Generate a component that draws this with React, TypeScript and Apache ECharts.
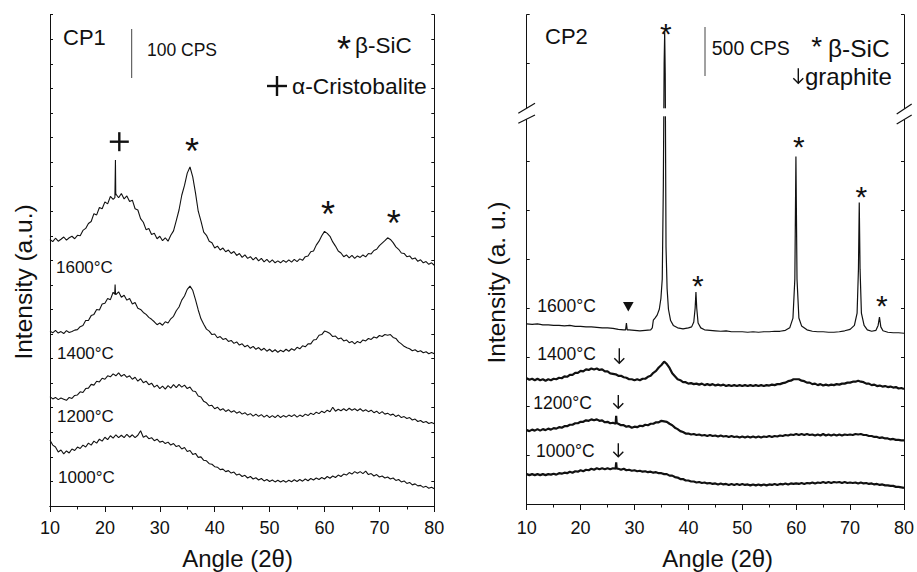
import React, { useEffect, useRef } from "react";
import * as echarts from "echarts";

// ---------- DATA (angle grid: 10..80 deg, 0.5 deg step) ----------
const ANGLE_START = 10;
const ANGLE_STEP = 0.5;

// CP1 (left panel), display units (0..20)
const CP1_1600 = [
  10.85, 10.76, 10.9, 10.78, 10.86, 10.95, 10.82, 10.92, 10.98, 10.88,
  11.02, 11.0, 11.22, 11.3, 11.5, 11.58, 11.9, 11.85, 12.15, 12.1,
  12.38, 12.3, 12.6, 12.48, 12.7, 12.55, 12.72, 12.5, 12.62, 12.4,
  12.45, 12.1, 12.05, 11.7, 11.55, 11.25, 11.3, 11.05, 11.1, 10.88,
  10.98, 10.8, 10.92, 10.78, 11.02, 11.2, 11.62, 12.05, 12.65, 13.05,
  13.55, 13.8, 13.4, 12.75, 12.0, 11.6, 11.15, 11.02, 10.78, 10.72,
  10.5, 10.58, 10.42, 10.5, 10.35, 10.42, 10.28, 10.36, 10.2, 10.28,
  10.12, 10.22, 10.08, 10.15, 10.02, 10.12, 9.98, 10.08, 9.94, 10.04,
  9.92, 10.02, 9.9, 9.98, 9.9, 10.0, 9.92, 10.02, 9.93, 10.04,
  9.95, 10.06, 10.0, 10.15, 10.18, 10.35, 10.38, 10.62, 10.78, 11.0,
  11.18, 11.1, 10.98, 10.75, 10.58, 10.38, 10.3, 10.15, 10.22, 10.1,
  10.2, 10.08, 10.18, 10.12, 10.22, 10.14, 10.28, 10.26, 10.4, 10.45,
  10.6, 10.7, 10.8, 10.92, 10.85, 10.72, 10.55, 10.45, 10.3, 10.28,
  10.15, 10.18, 10.05, 10.1, 9.96, 10.02, 9.9, 9.95, 9.84, 9.9,
  9.8,
];
const CP1_1600_SPIKES = [[21.82, 12.55], [21.92, 14.08], [21.98, 12.65]];

const CP1_1400 = [
  7.12, 7.05, 7.15, 7.04, 7.1, 7.02, 7.14, 7.06, 7.1, 7.16,
  7.18, 7.3, 7.35, 7.55, 7.55, 7.75, 7.8, 8.0, 7.98, 8.22,
  8.25, 8.45, 8.4, 8.7, 8.6, 8.72, 8.5, 8.58, 8.38, 8.45,
  8.22, 8.28, 8.05, 8.0, 7.88, 7.8, 7.68, 7.6, 7.5, 7.38,
  7.45, 7.36, 7.5, 7.45, 7.62, 7.72, 7.95, 8.1, 8.38, 8.55,
  8.82, 8.95, 8.78, 8.4, 7.98, 7.62, 7.4, 7.2, 7.12, 6.98,
  7.0, 6.85, 6.9, 6.78, 6.82, 6.7, 6.74, 6.62, 6.68, 6.55,
  6.6, 6.48, 6.54, 6.42, 6.5, 6.38, 6.45, 6.34, 6.42, 6.3,
  6.38, 6.28, 6.36, 6.26, 6.34, 6.28, 6.38, 6.3, 6.4, 6.34,
  6.46, 6.4, 6.52, 6.48, 6.6, 6.6, 6.76, 6.78, 6.95, 6.98,
  7.12, 7.08, 7.02, 6.9, 6.92, 6.8, 6.84, 6.72, 6.76, 6.65,
  6.7, 6.6, 6.7, 6.64, 6.76, 6.72, 6.82, 6.78, 6.88, 6.84,
  6.94, 6.9, 6.98, 6.95, 6.98, 6.86, 6.82, 6.68, 6.6, 6.5,
  6.44, 6.4, 6.32, 6.36, 6.28, 6.32, 6.24, 6.28, 6.2, 6.25,
  6.2,
];
const CP1_1400_SPIKES = [[21.78, 8.62], [21.86, 9.02], [21.93, 8.66]];

const CP1_1200 = [
  4.45, 4.36, 4.42, 4.33, 4.4, 4.35, 4.3, 4.42, 4.38, 4.5,
  4.52, 4.65, 4.62, 4.78, 4.8, 4.95, 4.92, 5.08, 5.05, 5.2,
  5.16, 5.3, 5.26, 5.38, 5.3, 5.42, 5.28, 5.36, 5.24, 5.3,
  5.16, 5.24, 5.08, 5.18, 5.02, 5.08, 4.94, 5.0, 4.84, 4.92,
  4.78, 4.88, 4.76, 4.9, 4.8, 4.94, 4.82, 4.95, 4.84, 4.92,
  4.78, 4.84, 4.68, 4.66, 4.48, 4.44, 4.26, 4.2, 4.08, 4.1,
  3.96, 4.02, 3.9, 3.96, 3.85, 3.92, 3.82, 3.88, 3.78, 3.84,
  3.74, 3.8, 3.7, 3.76, 3.66, 3.74, 3.65, 3.72, 3.62, 3.7,
  3.6, 3.68, 3.6, 3.7, 3.6, 3.68, 3.62, 3.7, 3.64, 3.72,
  3.62, 3.7, 3.64, 3.74, 3.68, 3.78, 3.72, 3.82, 3.76, 3.86,
  3.8, 3.9, 3.84, 4.02, 3.86, 3.94, 3.88, 3.96, 3.88, 3.98,
  3.9, 3.96, 3.88, 3.96, 3.86, 3.92, 3.84, 3.9, 3.8, 3.86,
  3.76, 3.84, 3.74, 3.78, 3.7, 3.74, 3.64, 3.7, 3.6, 3.64,
  3.56, 3.6, 3.5, 3.54, 3.44, 3.48, 3.4, 3.44, 3.36, 3.4,
  3.35,
];

const CP1_1000 = [
  2.68, 2.48, 2.4, 2.2, 2.28, 2.12, 2.24, 2.16, 2.32, 2.26,
  2.4, 2.34, 2.48, 2.4, 2.56, 2.48, 2.64, 2.56, 2.72, 2.64,
  2.8, 2.7, 2.86, 2.76, 2.9, 2.78, 2.88, 2.78, 2.92, 2.8,
  2.9, 2.78, 2.88, 3.06, 2.8, 2.86, 2.74, 2.78, 2.66, 2.72,
  2.6, 2.64, 2.54, 2.6, 2.48, 2.54, 2.42, 2.46, 2.32, 2.38,
  2.22, 2.26, 2.1, 2.14, 1.98, 2.0, 1.86, 1.84, 1.72, 1.7,
  1.6, 1.58, 1.48, 1.5, 1.4, 1.44, 1.34, 1.38, 1.26, 1.3,
  1.2, 1.25, 1.14, 1.2, 1.1, 1.15, 1.06, 1.12, 1.02, 1.08,
  1.0, 1.06, 0.98, 1.05, 0.98, 1.04, 0.97, 1.05, 0.99, 1.07,
  1.0, 1.08, 1.01, 1.1, 1.03, 1.12, 1.06, 1.14, 1.08, 1.16,
  1.1, 1.2, 1.13, 1.22, 1.16, 1.26, 1.2, 1.3, 1.26, 1.36,
  1.3, 1.4, 1.33, 1.4, 1.32, 1.42, 1.28, 1.32, 1.22, 1.28,
  1.18, 1.22, 1.14, 1.18, 1.1, 1.14, 1.04, 1.08, 0.98, 1.02,
  0.92, 0.96, 0.86, 0.9, 0.82, 0.84, 0.76, 0.8, 0.72, 0.76,
  0.7,
];

// CP2 (right panel), display units (0..10, break above ~8)
const CP2_1600 = [
  [10, 3.68], [11, 3.67], [12, 3.68], [13, 3.66], [14, 3.66], [15, 3.65], [16, 3.65],
  [17, 3.64], [18, 3.65], [19, 3.63], [20, 3.63], [21, 3.62], [22, 3.62], [23, 3.61],
  [24, 3.6], [25, 3.6], [26, 3.59], [27, 3.57], [28, 3.56], [28.35, 3.56], [28.5, 3.7],
  [28.65, 3.56], [29, 3.56], [30, 3.55], [31, 3.54], [32, 3.55], [33, 3.56], [33.3, 3.6],
  [33.5, 3.76], [33.8, 3.8], [34.2, 3.86], [34.6, 3.98], [34.9, 4.2], [35.15, 4.6],
  [35.35, 6.5], [35.5, 9.0], [35.6, 9.64], [35.7, 8.8], [35.85, 5.25], [36.05, 4.4],
  [36.3, 3.98], [36.7, 3.75], [37.2, 3.65], [38, 3.6], [39, 3.58], [40, 3.6], [40.6, 3.62],
  [41.0, 3.72], [41.25, 4.0], [41.4, 4.33], [41.55, 4.0], [41.8, 3.7], [42.3, 3.6],
  [43, 3.56], [44, 3.55], [45, 3.54], [46, 3.53], [47, 3.54], [48, 3.52], [49, 3.52],
  [50, 3.52], [51, 3.51], [52, 3.52], [53, 3.51], [54, 3.52], [55, 3.52], [56, 3.53],
  [57, 3.53], [58, 3.55], [58.8, 3.6], [59.4, 3.8], [59.75, 4.6], [59.95, 7.1],
  [60.15, 4.6], [60.5, 3.8], [61, 3.64], [62, 3.56], [63, 3.53], [64, 3.52], [65, 3.52],
  [66, 3.51], [67, 3.51], [68, 3.52], [69, 3.54], [70, 3.57], [70.8, 3.65], [71.3, 3.9],
  [71.55, 4.8], [71.7, 6.16], [71.85, 4.8], [72.1, 3.9], [72.6, 3.65], [73.2, 3.56],
  [74, 3.53], [74.8, 3.55], [75.2, 3.65], [75.45, 3.82], [75.7, 3.62], [76.1, 3.54],
  [77, 3.51], [78, 3.5], [79, 3.5], [80, 3.49],
];

const CP2_1400 = [
  2.57, 2.54, 2.56, 2.53, 2.56, 2.53, 2.55, 2.52, 2.55, 2.53,
  2.56, 2.55, 2.58, 2.57, 2.61, 2.6, 2.64, 2.64, 2.68, 2.68,
  2.72, 2.71, 2.75, 2.74, 2.77, 2.75, 2.77, 2.74, 2.75, 2.71,
  2.71, 2.67, 2.66, 2.65, 2.62, 2.62, 2.59, 2.58, 2.55, 2.55,
  2.53, 2.55, 2.53, 2.56, 2.56, 2.6, 2.62, 2.68, 2.72, 2.79,
  2.84, 2.91, 2.86, 2.78, 2.67, 2.61, 2.55, 2.53, 2.49, 2.49,
  2.46, 2.47, 2.45, 2.46, 2.44, 2.46, 2.43, 2.45, 2.43, 2.45,
  2.42, 2.44, 2.42, 2.44, 2.41, 2.43, 2.41, 2.43, 2.41, 2.43,
  2.41, 2.43, 2.41, 2.43, 2.41, 2.43, 2.41, 2.43, 2.41, 2.43,
  2.42, 2.44, 2.43, 2.45, 2.45, 2.47, 2.48, 2.51, 2.52, 2.55,
  2.55, 2.55, 2.52, 2.51, 2.48, 2.48, 2.45, 2.46, 2.43, 2.45,
  2.42, 2.44, 2.42, 2.44, 2.43, 2.45, 2.44, 2.46, 2.46, 2.48,
  2.48, 2.5, 2.5, 2.52, 2.5, 2.49, 2.46, 2.46, 2.43, 2.44,
  2.41, 2.42, 2.4, 2.41, 2.39, 2.4, 2.38, 2.39, 2.36, 2.37,
  2.35,
];

const CP2_1200 = [
  1.51, 1.49, 1.52, 1.5, 1.53, 1.5, 1.53, 1.51, 1.54, 1.52,
  1.55, 1.54, 1.57, 1.56, 1.59, 1.59, 1.62, 1.62, 1.65, 1.65,
  1.68, 1.68, 1.71, 1.7, 1.73, 1.71, 1.73, 1.7, 1.71, 1.67,
  1.68, 1.65, 1.66, 1.64, 1.64, 1.61, 1.61, 1.58, 1.59, 1.56,
  1.58, 1.57, 1.6, 1.59, 1.62, 1.61, 1.64, 1.64, 1.67, 1.67,
  1.7, 1.69, 1.68, 1.64, 1.61, 1.56, 1.53, 1.49, 1.47, 1.44,
  1.44, 1.42, 1.43, 1.41, 1.42, 1.4, 1.41, 1.39, 1.41, 1.39,
  1.4, 1.38, 1.4, 1.38, 1.39, 1.37, 1.39, 1.37, 1.38, 1.36,
  1.38, 1.36, 1.38, 1.36, 1.38, 1.36, 1.38, 1.36, 1.38, 1.37,
  1.39, 1.37, 1.39, 1.38, 1.4, 1.39, 1.41, 1.4, 1.42, 1.41,
  1.43, 1.41, 1.43, 1.41, 1.43, 1.41, 1.42, 1.4, 1.42, 1.4,
  1.43, 1.4, 1.42, 1.4, 1.42, 1.4, 1.42, 1.4, 1.42, 1.41,
  1.42, 1.41, 1.43, 1.42, 1.43, 1.41, 1.41, 1.39, 1.39, 1.37,
  1.37, 1.35, 1.36, 1.34, 1.34, 1.32, 1.33, 1.31, 1.31, 1.3,
  1.3,
];
const CP2_1200_SPIKES = [[26.6, 1.8], [26.7, 1.65]];

const CP2_1000 = [
  0.61, 0.59, 0.61, 0.59, 0.61, 0.59, 0.61, 0.59, 0.61, 0.6,
  0.62, 0.6, 0.63, 0.62, 0.64, 0.63, 0.66, 0.64, 0.67, 0.66,
  0.69, 0.67, 0.7, 0.69, 0.72, 0.7, 0.73, 0.71, 0.73, 0.71,
  0.73, 0.71, 0.73, 0.72, 0.72, 0.7, 0.72, 0.69, 0.7, 0.68,
  0.69, 0.67, 0.68, 0.66, 0.67, 0.65, 0.66, 0.64, 0.65, 0.63,
  0.63, 0.61, 0.61, 0.58, 0.58, 0.55, 0.54, 0.51, 0.51, 0.48,
  0.48, 0.46, 0.46, 0.44, 0.45, 0.43, 0.44, 0.42, 0.43, 0.41,
  0.42, 0.4, 0.42, 0.4, 0.41, 0.39, 0.41, 0.39, 0.41, 0.39,
  0.41, 0.39, 0.4, 0.38, 0.4, 0.38, 0.4, 0.38, 0.4, 0.38,
  0.4, 0.39, 0.41, 0.39, 0.41, 0.4, 0.42, 0.4, 0.42, 0.41,
  0.42, 0.41, 0.43, 0.41, 0.43, 0.42, 0.44, 0.42, 0.44, 0.43,
  0.45, 0.43, 0.45, 0.43, 0.45, 0.44, 0.45, 0.43, 0.45, 0.43,
  0.44, 0.43, 0.44, 0.42, 0.44, 0.42, 0.43, 0.41, 0.42, 0.4,
  0.41, 0.39, 0.4, 0.38, 0.38, 0.37, 0.37, 0.35, 0.35, 0.34,
  0.33,
];
const CP2_1000_SPIKES = [[26.6, 0.85], [26.7, 0.72]];

const X_TICK_LABELS = ["10", "20", "30", "40", "50", "60", "70", "80"];
const TEMP_LABELS = ["1600°C", "1400°C", "1200°C", "1000°C"];

// ---------- helpers ----------
const FONT = "Liberation Sans";
const INK = "#111";

function onGrid(vals: number[], extra: number[][] = []): number[][] {
  const pts = vals.map((v, i) => [ANGLE_START + ANGLE_STEP * i, v]);
  return [...pts, ...extra].sort((a, b) => a[0] - b[0]);
}

function txt(text: string, x: number, y: number, size: number, align = "left", rot = 0, lh?: number) {
  const style: any = { text, fontSize: size, fontFamily: FONT, fill: INK, align, verticalAlign: "middle" };
  if (lh) style.lineHeight = lh;
  return { type: "text", x, y, rotation: rot, z: 100, style };
}
function star(cx: number, cy: number, size: number) {
  return txt("*", cx, cy + size * 0.23, size, "center", 0, 12);
}
function seg(x1: number, y1: number, x2: number, y2: number, w = 1, color = INK) {
  return { type: "line", z: 100, shape: { x1, y1, x2, y2 }, style: { stroke: color, lineWidth: w } };
}
function plus(cx: number, cy: number, s: number) {
  return [seg(cx - s / 2, cy, cx + s / 2, cy, 2.4), seg(cx, cy - s / 2, cx, cy + s / 2, 2.4)];
}
function arrow(cx: number, y1: number, y2: number) {
  return [
    seg(cx, y1, cx, y2, 1.4),
    { type: "polyline", z: 100, shape: { points: [[cx - 5, y2 - 5], [cx, y2], [cx + 5, y2 - 5]] }, style: { stroke: INK, lineWidth: 1.4, fill: "none" } },
  ];
}

function xAxes(grid: number, margin: number) {
  const common = { gridIndex: grid, type: "value", min: 10, max: 80, axisLine: { lineStyle: { color: INK, width: 1 } }, splitLine: { show: false } };
  return [
    {
      ...common,
      position: "bottom",
      interval: 10,
      axisTick: { inside: false, length: 6, lineStyle: { color: INK } },
      minorTick: { show: true, splitNumber: 2, length: 3.5, lineStyle: { color: INK } },
      axisLabel: {
        margin,
        fontSize: 18,
        fontFamily: FONT,
        color: INK,
        formatter: (v: number) => X_TICK_LABELS[Math.round((v - 10) / 10)] ?? "",
      },
    },
    {
      ...common,
      position: "top",
      interval: 5,
      axisTick: { inside: true, length: 3, lineStyle: { color: INK } },
      axisLabel: { show: false },
    },
  ];
}
function yAxes(grid: number, max: number) {
  const common = {
    gridIndex: grid, type: "value", min: 0, max, interval: 1,
    axisLine: { show: true, lineStyle: { color: INK, width: 1 } },
    axisTick: { show: true, inside: true, length: 3, lineStyle: { color: INK } },
    axisLabel: { show: false }, splitLine: { show: false },
  };
  return [{ ...common, position: "left" }, { ...common, position: "right" }];
}

function line(data: number[][], xi: number, yi: number, width: number) {
  return {
    type: "line", data, xAxisIndex: xi, yAxisIndex: yi, showSymbol: false, symbol: "none",
    silent: true, lineStyle: { color: INK, width }, z: 3,
  };
}

export default function App() {
  const ref = useRef<HTMLDivElement>(null);
  useEffect(() => {
    if (!ref.current) return;
    const chart = echarts.init(ref.current, undefined, { renderer: "svg" });
    const graphics: any[] = [
      // left panel
      txt("CP1", 63, 37, 22),
      seg(131.7, 29, 131.7, 78, 1, "#444"),
      txt("100 CPS", 147, 50, 17.5),
      star(344, 41.7, 36),
      txt("β-SiC", 355, 45, 22.5),
      ...plus(277, 86, 20),
      txt("α-Cristobalite", 292, 86, 22.8),
      ...plus(119.3, 141.7, 19),
      star(192, 143.3, 36),
      star(328, 206.7, 36),
      star(393.7, 215, 36),
      txt(TEMP_LABELS[0], 56, 267, 17),
      txt(TEMP_LABELS[1], 57, 353, 17),
      txt(TEMP_LABELS[2], 57, 416.3, 17),
      txt(TEMP_LABELS[3], 58, 477.3, 17),
      txt("Angle (2θ)", 237.5, 558, 24, "center"),
      txt("Intensity (a.u.)", 23.3, 282, 24.5, "center", Math.PI / 2),
      // right panel
      txt("CP2", 545, 36.7, 22),
      seg(705, 27, 705, 76, 1, "#444"),
      txt("500 CPS", 711.7, 48.3, 19.5),
      star(816.7, 40.5, 28),
      txt("β-SiC", 828, 48.3, 24.5),
      ...arrow(798.3, 68.3, 83.3),
      txt("graphite", 805, 76.5, 24),
      star(665.8, 26.7, 30),
      star(697.8, 279, 30),
      star(798.8, 140, 30),
      star(861.3, 190, 30),
      star(881.8, 298.3, 30),
      { type: "polygon", z: 100, shape: { points: [[623, 302], [633.6, 302], [628.3, 311.5]] }, style: { fill: INK } },
      txt(TEMP_LABELS[0], 537.3, 306, 17.5),
      txt(TEMP_LABELS[1], 537.3, 354, 17.5),
      txt(TEMP_LABELS[2], 533.3, 402.5, 17.5),
      txt(TEMP_LABELS[3], 536, 451, 17.5),
      ...arrow(619.3, 348.3, 363.3),
      ...arrow(618.3, 395, 408.3),
      ...arrow(618.3, 443.3, 456.7),
      txt("Angle (2θ)", 717.7, 558, 24, "center"),
      txt("Intensity (a. u.)", 496.7, 282.5, 24.5, "center", Math.PI / 2),
      // axis break
      { type: "rect", z: 90, shape: { x: 655, y: 108.3, width: 22, height: 8 }, style: { fill: "#fff" } },
      { type: "polygon", z: 90, shape: { points: [[518, 113.3], [535, 103.3], [535, 115], [518, 123.3]] }, style: { fill: "#fff" } },
      { type: "polygon", z: 90, shape: { points: [[896.5, 114], [912, 104], [912, 115], [896.5, 124]] }, style: { fill: "#fff" } },
      seg(518.3, 113.3, 535, 103.3, 1.2),
      seg(518.3, 123.3, 535, 115, 1.2),
      seg(896.7, 114, 911.7, 104, 1.2),
      seg(896.7, 124, 911.7, 115, 1.2),
    ];

    chart.setOption({
      animation: false,
      backgroundColor: "#fff",
      grid: [
        { left: 50, top: 14.7, width: 384.3, height: 491.3 },
        { left: 526.7, top: 14.7, width: 378.6, height: 489.3 },
      ],
      xAxis: [...xAxes(0, 13), ...xAxes(1, 15)],
      yAxis: [...yAxes(0, 20), ...yAxes(1, 10)],
      series: [
        line(onGrid(CP1_1600, CP1_1600_SPIKES), 0, 0, 1.1),
        line(onGrid(CP1_1400, CP1_1400_SPIKES), 0, 0, 1.1),
        line(onGrid(CP1_1200), 0, 0, 1.1),
        line(onGrid(CP1_1000), 0, 0, 1.1),
        line(CP2_1600, 2, 2, 1.2),
        line(onGrid(CP2_1400), 2, 2, 2.2),
        line(onGrid(CP2_1200, CP2_1200_SPIKES), 2, 2, 2.2),
        line(onGrid(CP2_1000, CP2_1000_SPIKES), 2, 2, 2.2),
      ],
      graphic: graphics,
    });
    return () => chart.dispose();
  }, []);
  return <div ref={ref} style={{ position: "fixed", left: 0, top: 0, width: 917, height: 572, background: "#fff" }} />;
}
